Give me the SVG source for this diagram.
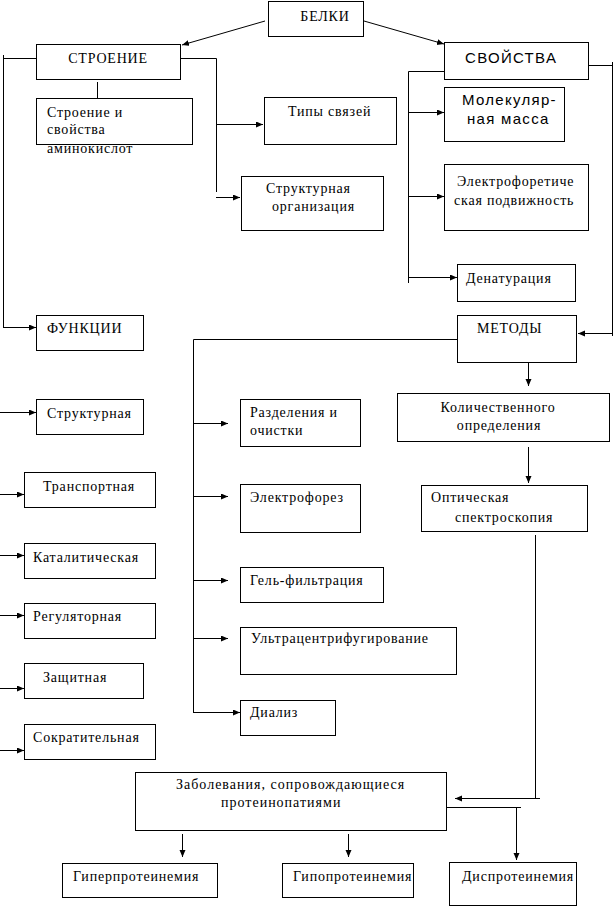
<svg xmlns="http://www.w3.org/2000/svg" width="613" height="907" viewBox="0 0 613 907">
<defs>
<marker id="ah" markerUnits="userSpaceOnUse" markerWidth="8" markerHeight="7" refX="7" refY="3" orient="auto">
<path d="M0,0 L7,3 L0,6 z" fill="#000"/>
</marker>
<style>
rect{fill:#fff;stroke:#000;stroke-width:1}
.s{font-family:"Liberation Serif","Times New Roman",serif;font-size:14px;letter-spacing:0.8px;fill:#000}
.a{font-family:"Liberation Sans",Arial,sans-serif;font-size:15px;letter-spacing:1.3px;fill:#000}
.c line,.c polyline{stroke:#000;stroke-width:1;fill:none}
.c .ar{marker-end:url(#ah)}
</style>
</defs>
<rect x="0" y="0" width="613" height="907" style="stroke:none"/>
<g class="c" id="connectors">
<line class="ar" x1="265" y1="21" x2="182" y2="45"/>
<line class="ar" x1="364" y1="21" x2="444" y2="44"/>
<polyline points="36,58.5 3.5,58.5"/>
<line x1="3.5" y1="55" x2="3.5" y2="327.5"/>
<line class="ar" x1="3" y1="327.5" x2="36" y2="327.5"/>
<line class="ar" x1="97.5" y1="82" x2="97.5" y2="105"/>
<polyline points="181,58.5 216.5,58.5 216.5,192"/>
<line class="ar" x1="216" y1="124.5" x2="263" y2="124.5"/>
<line class="ar" x1="216" y1="197.5" x2="240" y2="197.5"/>
<polyline points="444,71.5 408.5,71.5 408.5,283"/>
<line class="ar" x1="408" y1="112.5" x2="444" y2="112.5"/>
<line class="ar" x1="408" y1="196.5" x2="444" y2="196.5"/>
<line class="ar" x1="408" y1="277.5" x2="457" y2="277.5"/>
<polyline points="589,65.5 612.5,65.5"/>
<line x1="612.5" y1="62" x2="612.5" y2="336"/>
<line class="ar" x1="612" y1="333.5" x2="578" y2="333.5"/>
<polyline points="457,339.5 193.5,339.5 193.5,712.5"/>
<line class="ar" x1="193" y1="423.5" x2="228" y2="423.5"/>
<line class="ar" x1="193" y1="496.5" x2="228" y2="496.5"/>
<line class="ar" x1="193" y1="580.5" x2="228" y2="580.5"/>
<line class="ar" x1="193" y1="638.5" x2="228" y2="638.5"/>
<line class="ar" x1="193" y1="712.5" x2="240" y2="712.5"/>
<line class="ar" x1="528.5" y1="363" x2="528.5" y2="386"/>
<line class="ar" x1="528.5" y1="447" x2="528.5" y2="483"/>
<line x1="535.5" y1="535" x2="535.5" y2="798.5"/>
<line class="ar" x1="540" y1="798.5" x2="455" y2="798.5"/>
<line x1="447" y1="807.5" x2="521" y2="807.5"/>
<line class="ar" x1="516.5" y1="807" x2="516.5" y2="860"/>
<line class="ar" x1="182.5" y1="834" x2="182.5" y2="857"/>
<line class="ar" x1="348.5" y1="834" x2="348.5" y2="857"/>
<line class="ar" x1="0" y1="412.5" x2="36" y2="412.5"/>
<line class="ar" x1="0" y1="494.5" x2="24" y2="494.5"/>
<line class="ar" x1="0" y1="555.5" x2="24" y2="555.5"/>
<line class="ar" x1="0" y1="615.5" x2="24" y2="615.5"/>
<line class="ar" x1="0" y1="688.5" x2="24" y2="688.5"/>
<line class="ar" x1="0" y1="750.5" x2="24" y2="750.5"/>
</g>
<g id="belki"><rect x="268.5" y="1.5" width="95" height="35"/><text class="s" x="325" y="21" text-anchor="middle">БЕЛКИ</text></g>
<g id="stroenie"><rect x="36.5" y="44.5" width="144" height="35"/><text class="s" x="108" y="63" text-anchor="middle">СТРОЕНИЕ</text></g>
<g id="aminokisloty"><rect x="36.5" y="98.5" width="156" height="46"/><text class="s" x="47" y="117">Строение и</text><text class="s" x="47" y="134">свойства</text><text class="s" x="47" y="153">аминокислот</text></g>
<g id="tipy"><rect x="264.5" y="97.5" width="132" height="47"/><text class="s" x="288" y="116">Типы связей</text></g>
<g id="strukt-org"><rect x="241.5" y="176.5" width="142" height="54"/><text class="s" x="266" y="193">Структурная</text><text class="s" x="272" y="211">организация</text></g>
<g id="svoistva"><rect x="444.5" y="42.5" width="144" height="37"/><text class="a" x="465" y="63">СВОЙСТВА</text></g>
<g id="mol-massa"><rect x="444.5" y="87.5" width="120" height="54"/><text class="a" x="462" y="105">Молекуляр-</text><text class="a" x="467" y="124">ная масса</text></g>
<g id="elektroforet"><rect x="444.5" y="164.5" width="144" height="66"/><text class="s" x="457" y="186">Электрофоретиче</text><text class="s" x="454" y="205">ская подвижность</text></g>
<g id="denaturacia"><rect x="457.5" y="264.5" width="118" height="37"/><text class="s" x="466" y="283">Денатурация</text></g>
<g id="funkcii"><rect x="36.5" y="315.5" width="107" height="35"/><text class="s" x="47" y="333">ФУНКЦИИ</text></g>
<g id="metody"><rect x="457.5" y="315.5" width="119" height="47"/><text class="s" x="477" y="333">МЕТОДЫ</text></g>
<g id="f-strukt"><rect x="36.5" y="399.5" width="107" height="35"/><text class="s" x="47" y="418">Структурная</text></g>
<g id="f-transport"><rect x="24.5" y="472.5" width="131" height="35"/><text class="s" x="43" y="491">Транспортная</text></g>
<g id="f-katal"><rect x="24.5" y="543.5" width="131" height="35"/><text class="s" x="33" y="562">Каталитическая</text></g>
<g id="f-regul"><rect x="24.5" y="603.5" width="131" height="35"/><text class="s" x="33" y="621">Регуляторная</text></g>
<g id="f-zasch"><rect x="24.5" y="663.5" width="119" height="35"/><text class="s" x="43" y="682">Защитная</text></g>
<g id="f-sokr"><rect x="24.5" y="724.5" width="131" height="35"/><text class="s" x="33" y="742">Сократительная</text></g>
<g id="m-razdel"><rect x="240.5" y="399.5" width="120" height="47"/><text class="s" x="250" y="417">Разделения и</text><text class="s" x="250" y="435">очистки</text></g>
<g id="m-elektroforez"><rect x="240.5" y="484.5" width="120" height="48"/><text class="s" x="250" y="502">Электрофорез</text></g>
<g id="m-gel"><rect x="240.5" y="567.5" width="143" height="35"/><text class="s" x="250" y="585">Гель-фильтрация</text></g>
<g id="m-ultra"><rect x="240.5" y="627.5" width="216" height="47"/><text class="s" x="251" y="643">Ультрацентрифугирование</text></g>
<g id="m-dializ"><rect x="240.5" y="700.5" width="95" height="35"/><text class="s" x="250" y="717">Диализ</text></g>
<g id="kolich"><rect x="397.5" y="393.5" width="212" height="48"/><text class="s" x="498" y="412" text-anchor="middle">Количественного</text><text class="s" x="499" y="430" text-anchor="middle">определения</text></g>
<g id="optich"><rect x="421.5" y="485.5" width="166" height="46"/><text class="s" x="431" y="502">Оптическая</text><text class="s" x="455" y="522">спектроскопия</text></g>
<g id="zabol"><rect x="135.5" y="772.5" width="311" height="58"/><text class="s" x="176" y="789" style="letter-spacing:1px">Заболевания, сопровождающиеся</text><text class="s" x="221" y="807" style="letter-spacing:1px">протеинопатиями</text></g>
<g id="giper"><rect x="62.5" y="863.5" width="155" height="34"/><text class="s" x="73" y="881">Гиперпротеинемия</text></g>
<g id="gipo"><rect x="282.5" y="863.5" width="131" height="34"/><text class="s" x="293" y="881">Гипопротеинемия</text></g>
<g id="dis"><rect x="449.5" y="862.5" width="127" height="43"/><text class="s" x="462" y="881">Диспротеинемия</text></g>
</svg>
